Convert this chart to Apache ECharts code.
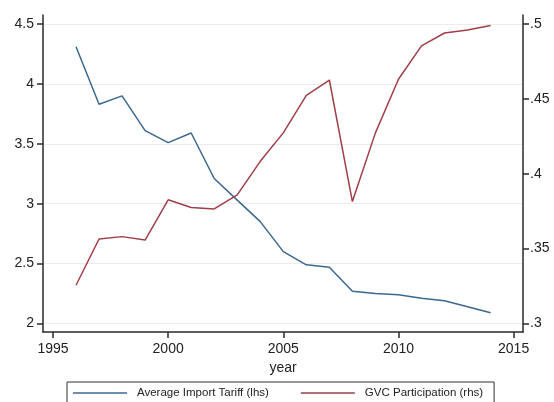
<!DOCTYPE html>
<html>
<head>
<meta charset="utf-8">
<script src="https://cdn.jsdelivr.net/npm/echarts@6/dist/echarts.min.js"></script>
<style>
html,body{margin:0;padding:0;background:#fff;}
#chart{width:554px;height:402px;}
</style>
</head>
<body>
<div id="chart"></div>
<script>
var years = [1996,1997,1998,1999,2000,2001,2002,2003,2004,2005,2006,2007,2008,2009,2010,2011,2012,2013,2014];
var tariff = [4.31,3.83,3.90,3.61,3.51,3.59,3.21,3.03,2.85,2.60,2.49,2.47,2.27,2.25,2.24,2.21,2.19,2.14,2.09];
var gvc = [0.3255,0.3564,0.358,0.3557,0.3826,0.3774,0.3765,0.3859,0.4083,0.4273,0.4523,0.4626,0.3814,0.4273,0.4631,0.4854,0.494,0.496,0.499];
var xTicks = [1995,2000,2005,2010,2015];
var leftTicks = [2,2.5,3,3.5,4,4.5];
var rightTicks = [0.3,0.35,0.4,0.45,0.5];
var seriesNames = ['Average Import Tariff (lhs)','GVC Participation (rhs)'];
var xName = 'year';

var chart = echarts.init(document.getElementById('chart'), null, {renderer:'canvas'});
var font = 'Liberation Sans, Arial, sans-serif';
var axisCol = '#2a2a2a';

function pairs(vals){ return years.map(function(y,i){ return [y, vals[i]]; }); }

chart.setOption({
  animation:false,
  backgroundColor:'#fff',
  grid:{left:43, right:31, top:15, bottom:70},
  legend:{
    left:67, top:382,
    padding:[5,11,20,6],
    borderColor:'#333', borderWidth:1,
    icon:'rect', itemWidth:54, itemHeight:1.5,
    itemGap:32,
    textStyle:{fontFamily:font, fontSize:11.5, color:'#222', padding:[0,0,0,5]},
    data:seriesNames
  },
  xAxis:{
    type:'value', min:1994.566, max:2015.408,
    name:xName, nameLocation:'middle', nameGap:23,
    nameTextStyle:{fontFamily:font, fontSize:14, color:'#222'},
    axisLine:{show:true, lineStyle:{color:axisCol, width:1.5}},
    axisTick:{show:true, length:6, customValues:xTicks, lineStyle:{color:axisCol, width:1.5}},
    axisLabel:{customValues:xTicks, margin:10, fontFamily:font, fontSize:14, color:'#222',
      formatter:function(v){ return String(Math.round(v)); }},
    splitLine:{show:false}
  },
  yAxis:[{
    type:'value', position:'left', min:1.929, max:4.575,
    axisLine:{show:true, lineStyle:{color:axisCol, width:1.5}},
    axisTick:{show:true, length:6, customValues:leftTicks, lineStyle:{color:axisCol, width:1.5}},
    axisLabel:{customValues:leftTicks, margin:9, fontFamily:font, fontSize:14, color:'#222',
      formatter:function(v){ return String(v); }},
    splitLine:{show:true, lineStyle:{color:'#ececec', width:1}}
  },{
    type:'value', position:'right', min:0.2943, max:0.50602,
    axisLine:{show:true, lineStyle:{color:axisCol, width:1.5}},
    axisTick:{show:true, length:6, customValues:rightTicks, lineStyle:{color:axisCol, width:1.5}},
    axisLabel:{customValues:rightTicks, margin:7, fontFamily:font, fontSize:14, color:'#222',
      formatter:function(v){ return String(+v.toFixed(2)).replace(/^0/,''); }},
    splitLine:{show:false}
  }],
  series:[{
    name:seriesNames[0], type:'line', yAxisIndex:0, data:pairs(tariff),
    symbol:'none', lineStyle:{color:'#3c6890', width:1.5}, itemStyle:{color:'#3c6890'}
  },{
    name:seriesNames[1], type:'line', yAxisIndex:1, data:pairs(gvc),
    symbol:'none', lineStyle:{color:'#a03f4a', width:1.5}, itemStyle:{color:'#a03f4a'}
  }]
});
</script>
</body>
</html>
